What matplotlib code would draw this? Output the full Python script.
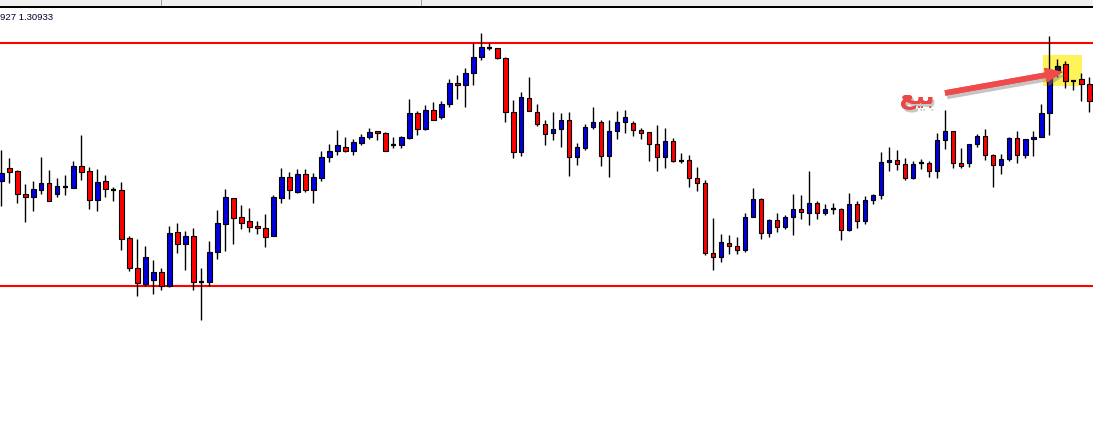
import numpy as np
import matplotlib
matplotlib.use("Agg")
import matplotlib.pyplot as plt
import matplotlib.transforms as mtransforms
from matplotlib.patches import Rectangle, FancyArrow
import matplotlib.patheffects as pe

# Candle values expressed in chart rows (screen units, 0 = top of chart; axis inverted)
open_row = [181, 168, 171, 194, 197, 190, 183, 194, 187, 188,
            166, 171, 200, 181, 190, 190, 238, 268, 284, 280,
            272, 286, 232, 244, 236, 281.5, 282, 252, 224, 198,
            217, 221, 226, 228, 236, 198, 177, 192, 174, 190,
            178, 157, 151, 147, 151, 143, 137, 131, 133, 145,
            145, 138, 113, 129, 110, 117, 104, 83, 85, 73,
            57, 48, 48, 58, 112, 152, 98, 112, 124, 133,
            129, 120, 157, 148, 127, 122, 156, 131, 122, 123,
            130, 132, 144, 157, 141, 161, 160, 178, 183, 253,
            257, 243, 246, 250, 217, 199, 233, 220, 227, 217,
            209, 213, 203, 213, 209, 209, 230, 204, 221, 200,
            195, 162, 160, 164, 178, 163, 163, 171, 140, 131,
            163, 163, 144, 136, 155, 165, 159, 138, 155, 139,
            137, 113, 72, 64, 80.5, 79, 84]
high_row = [150, 158, 170, 184, 181, 157, 170, 178, 175, 161,
            135, 167, 169, 175, 187, 182, 236, 239, 246, 260,
            268, 226, 223, 231, 228, 268, 241, 210, 189, 198,
            205, 208, 221, 214, 195, 168, 172, 169, 169, 173,
            151, 144, 130, 137, 139, 134, 128, 131, 132, 137,
            136, 99, 111, 105, 102, 101, 79, 75, 68, 43,
            33, 43, 48, 57, 100, 92, 77, 104, 120, 112,
            113, 112, 143, 124, 107, 120, 120, 111, 110, 121,
            128, 132, 125, 128, 138, 153, 155, 167, 180, 218,
            234, 235, 237, 213, 188, 198, 219, 213, 215, 194,
            195, 171, 201, 204, 203, 208, 193, 201, 196, 194,
            152, 147, 150, 158, 161, 159, 161, 133, 110, 131,
            148, 144, 134, 129, 154, 154, 137, 131, 139, 131,
            104, 36, 59, 61, 80, 73, 77]
low_row = [206, 183, 203, 222, 211, 194, 201, 197, 195, 188,
           180, 209, 211, 197, 201, 250, 271, 296, 286, 294,
           290, 287, 253, 270, 290, 320, 286, 259, 251, 244,
           229, 232, 234, 247, 236, 203, 199, 193, 192, 203,
           181, 162, 155, 152, 155, 145, 139, 140, 151, 148,
           148, 139, 135, 130, 120, 119, 107, 99, 107, 85,
           60, 50, 59, 122, 158, 156, 111, 126, 145, 140,
           147, 176, 165, 150, 129, 166, 177, 139, 133, 136,
           139, 161, 171, 168, 162, 163, 187, 191, 255, 270,
           262, 254, 254, 252, 217, 239, 237, 232, 229, 235,
           219, 225, 219, 215, 214, 240, 231, 228, 224, 204,
           199, 171, 170, 180, 179, 169, 177, 178, 149, 168,
           168, 167, 147, 160, 187, 174, 161, 163, 158, 156,
           137, 135, 77, 88, 90, 101, 112]
close_row = [173, 172, 194, 197, 189, 183, 201, 186, 187, 166,
             172, 200, 182, 189, 190, 239, 268, 283, 257, 272,
             286, 233, 244, 236, 282, 281.5, 252, 223, 197, 218,
             223, 227, 228, 237, 197, 177, 190, 174, 190, 177,
             157, 151, 145, 151, 142, 137, 132, 133, 151, 145,
             137, 113, 129, 110, 120, 104, 83, 85, 73, 57,
             47, 48, 58, 112, 152, 97, 111, 124, 134, 129,
             120, 157, 147, 127, 122, 156, 131, 122, 117, 130,
             133, 144, 157, 141, 161, 161, 178, 183, 253, 257,
             242, 246, 250, 217, 199, 233, 220, 227, 217, 209,
             212, 203, 213, 209, 209, 230, 204, 221, 200, 195,
             162, 160, 164, 178, 164, 163, 171, 140, 131, 163,
             166, 144, 136, 155, 165, 159, 138, 155, 139, 137,
             113, 72, 66, 81, 80.5, 84, 101]
level_rows = [43, 285.5]          # horizontal support / resistance lines
highlight_candles = (130.25, 135.05)  # highlighted candle span
highlight_rows = (55, 86)
header_text = "927 1.30933"
note_text = "\uFECA\uFEF4\uFE91"   # "بيع" (sell) in presentation forms, visual order

W, H = 1093, 446
fig = plt.figure(figsize=(W / 100, H / 100), dpi=100)
fig.patch.set_facecolor("white")
ax = fig.add_axes([0, 0, 1, 1])
ax.set_xlim(-1.3 / 8, (W - 1.3) / 8)
ax.set_ylim(H, 0)
ax.axis("off")

# pixel transform (x right, y down) for decorations
px = mtransforms.Affine2D().scale(1 / W, -1 / H).translate(0, 1) + fig.transFigure

o = np.array(open_row, float)
c = np.array(close_row, float)
hi = np.array(high_row, float)
lo = np.array(low_row, float)
x = np.arange(len(o))

up = c < o      # close above open on screen
down = c > o
doji = c == o

# highlight box
hl = Rectangle((highlight_candles[0], highlight_rows[0]),
               highlight_candles[1] - highlight_candles[0],
               highlight_rows[1] - highlight_rows[0],
               facecolor="#fff35c", edgecolor="none", zorder=1)
ax.add_patch(hl)

# support/resistance lines
for lv in level_rows:
    ax.axhline(lv, color="#ff0000", lw=1.5, zorder=1.5)

# wicks
ax.vlines(x, hi, lo, color="black", lw=1.0, zorder=2)

bw = 0.55
ax.bar(x[up], (o - c)[up], bottom=c[up], width=bw, color="#0000dd",
       edgecolor="black", linewidth=0.8, zorder=3)
ax.bar(x[down], (c - o)[down], bottom=o[down], width=bw, color="#ff0000",
       edgecolor="black", linewidth=0.8, zorder=3)
ax.hlines(o[doji], x[doji] - bw / 2, x[doji] + bw / 2, color="black", lw=1.6, zorder=3)

# highlighter effect on blue bodies inside the yellow box
dark = ax.bar(x[up], (o - c)[up], bottom=c[up], width=bw, color="#141440",
              edgecolor="black", linewidth=0.8, zorder=4)
for r in dark:
    r.set_clip_path(hl)

# header strip
fig.patches.append(Rectangle((0, 0), W, 5.6, transform=px, facecolor="#f0f0f0",
                             edgecolor="none", zorder=0))
fig.patches.append(Rectangle((0, 5.6), W, 0.9, transform=px, facecolor="black",
                             edgecolor="none", zorder=1))
fig.patches.append(Rectangle((0, 7.3), W, 0.9, transform=px, facecolor="black",
                             edgecolor="none", zorder=1))
for sx in (160.5, 420.5):
    fig.patches.append(Rectangle((sx, 0), 1, 5.6, transform=px, facecolor="#a0a0a0",
                                 edgecolor="none", zorder=1))
fig.text(0.5, 19.5, header_text, transform=px, fontsize=6.8, family="Liberation Sans",
         color="#000030", ha="left", va="baseline")

# arrow + note
arrow = FancyArrow(945, 93, 1063 - 945, 72 - 93, width=5.5, head_width=15,
                   head_length=18, length_includes_head=True, transform=px,
                   facecolor="#f04a4a", edgecolor="none", zorder=5,
                   path_effects=[pe.withSimplePatchShadow(offset=(1.5, -2.5),
                                                          shadow_rgbFace="#808080",
                                                          alpha=0.45),
                                 pe.Normal()])
fig.patches.append(arrow)
fig.text(917, 104, note_text, transform=px, fontsize=17, family="DejaVu Sans",
         color="#e84848", ha="center", va="baseline", fontweight="bold",
         path_effects=[pe.withSimplePatchShadow(offset=(1.5, -2), shadow_rgbFace="#909090",
                                                alpha=0.5), pe.Normal()])

fig.savefig("out.png", dpi=100, facecolor="white")
